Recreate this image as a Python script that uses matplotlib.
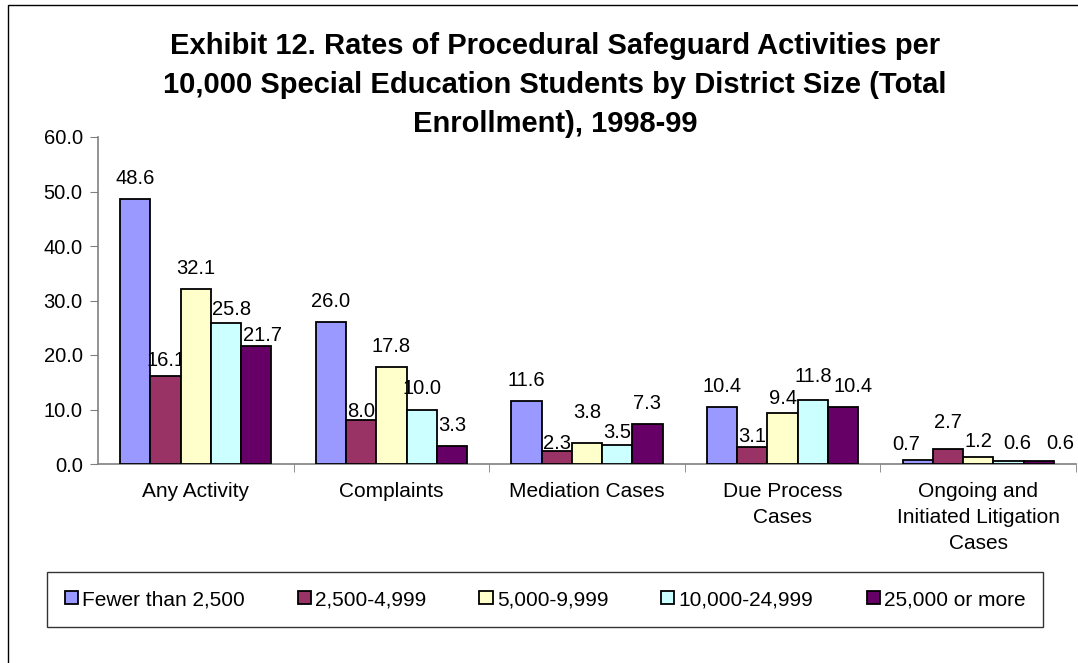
import numpy as np
import matplotlib
matplotlib.use('Agg')
from matplotlib import pyplot as plt
from matplotlib.patches import Rectangle
from matplotlib.ticker import FormatStrFormatter

plt.rcParams['font.family'] = ['Liberation Sans', 'DejaVu Sans']

categories = ['Any Activity', 'Complaints', 'Mediation Cases', 'Due Process\nCases',
              'Ongoing and\nInitiated Litigation\nCases']
series_names = ['Fewer than 2,500', '2,500-4,999', '5,000-9,999', '10,000-24,999', '25,000 or more']
fewer_2500 = [48.6, 26.0, 11.6, 10.4, 0.7]
d2500_4999 = [16.1, 8.0, 2.3, 3.1, 2.7]
d5000_9999 = [32.1, 17.8, 3.8, 9.4, 1.2]
d10000_24999 = [25.8, 10.0, 3.5, 11.8, 0.6]
d25000_more = [21.7, 3.3, 7.3, 10.4, 0.6]
colors = ['#9999FF', '#993366', '#FFFFCC', '#CCFFFF', '#660066']

title = ('Exhibit 12. Rates of Procedural Safeguard Activities per\n'
         '10,000 Special Education Students by District Size (Total\n'
         'Enrollment), 1998-99')

# label nudges (pixels) where Excel spread crowded labels apart: (series, category) -> (dx, dy)
nudge = {(0, 4): (-12, -5), (1, 4): (0, 6), (2, 4): (0, -5), (3, 4): (9, -3), (4, 4): (22, -3),
         (4, 3): (10, 0), (3, 0): (6, -7), (4, 0): (6, -10), (1, 0): (0, -5),
         (1, 1): (0, -12), (1, 2): (0, -13), (2, 2): (0, 10), (3, 2): (0, -8),
         (1, 3): (0, -10), (2, 3): (0, -6), (3, 3): (0, 3)}

fs = 14.5
fig = plt.figure(figsize=(10.78, 6.63), dpi=100)
ax = fig.add_axes([98/1078, 1-464/663, 978/1078, (464-137)/663])

# outer border (only left and top edges fall inside the image)
fig.patches.append(Rectangle((8/1078, -0.5), 1.5, 1.5 - 5/663, transform=fig.transFigure,
                             fill=False, edgecolor='black', linewidth=1.0))

x = np.arange(len(categories))
bw = 0.1545
all_series = [fewer_2500, d2500_4999, d5000_9999, d10000_24999, d25000_more]
for i, (vals, name, c) in enumerate(zip(all_series, series_names, colors)):
    xs = x + (i - 2) * bw
    bars = ax.bar(xs, vals, width=bw, color=c, edgecolor='black', linewidth=1.3, label=name, zorder=3)
    for j, (b, v) in enumerate(zip(bars, vals)):
        dx, dy = nudge.get((i, j), (0, 0))
        ax.annotate('%.1f' % v, (b.get_x() + b.get_width()/2, v),
                    xytext=(dx * 0.72, 8 + dy * 0.72),
                    textcoords='offset points', ha='center', va='bottom', fontsize=fs)

ax.set_xlim(-0.5, 4.5)
ax.set_ylim(0, 60)
ax.set_yticks(np.arange(0, 61, 10))
ax.yaxis.set_major_formatter(FormatStrFormatter('%.1f'))
ax.set_xticks(x)
ax.set_xticklabels(categories, fontsize=15, linespacing=1.45)
ax.set_xticks(np.arange(0.5, 4.6, 1), minor=True)
ax.tick_params(axis='x', which='major', length=0, pad=13)
ax.tick_params(axis='x', which='minor', length=6, color='#808080', direction='out')
ax.tick_params(axis='y', labelsize=fs, length=6, color='#808080', pad=5)
for s in ['top', 'right']:
    ax.spines[s].set_visible(False)
for s in ['left', 'bottom']:
    ax.spines[s].set_color('#808080')
    ax.spines[s].set_linewidth(1.2)

fig.text(555/1078, 1-85/663, title, ha='center', va='center', fontsize=21,
         fontweight='bold', multialignment='center', linespacing=1.5)

leg = fig.legend(loc='center', bbox_to_anchor=(545/1078, 1-599.5/663), ncol=5, fontsize=15,
                 frameon=True, fancybox=False, shadow=False, borderpad=0.85,
                 handlelength=0.63, handleheight=0.63, handletextpad=0.2, columnspacing=2.55)
leg.get_frame().set_edgecolor('black')
leg.get_frame().set_linewidth(1.0)

fig.savefig('out.png', dpi=100)
